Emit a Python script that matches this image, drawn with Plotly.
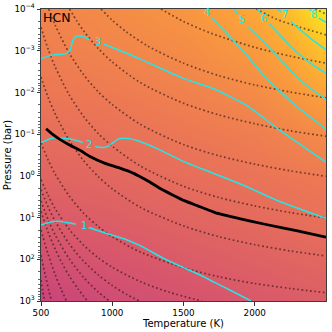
import plotly.graph_objects as go

# ---------------- data ----------------
# background colour field (fraction along the "plasma" colour map)
GRID_T = [500, 1000, 1500, 2000, 2250, 2500]
GRID_P = [1e-4, 1e-3, 1e-2, 1e-1, 1e0, 1e1, 1e2, 1e3]
GRID_Z = [
    [0.70, 0.72, 0.75, 0.80, 0.86, 0.97],
    [0.68, 0.70, 0.72, 0.76, 0.80, 0.87],
    [0.66, 0.67, 0.69, 0.72, 0.75, 0.79],
    [0.63, 0.64, 0.66, 0.68, 0.70, 0.72],
    [0.60, 0.61, 0.63, 0.65, 0.66, 0.67],
    [0.565, 0.58, 0.60, 0.62, 0.63, 0.64],
    [0.53, 0.55, 0.57, 0.59, 0.60, 0.61],
    [0.49, 0.52, 0.54, 0.56, 0.57, 0.58],
]

# cyan contour lines: (temperature K, log10 pressure bar); each list = one drawn piece
CONTOUR_LEVELS = ["1", "2", "3", "4", "5", "6", "7", "8"]
CONTOUR_PIECES_T = [
    [[500, 560, 620, 680, 745], [835, 950, 1100, 1200, 1372, 1500, 1605, 1722, 1839, 1974]],
    [[500, 583, 660, 723, 793], [880, 930, 960, 1000, 1040, 1097, 1190, 1330, 1490, 1703, 1937, 2170, 2500]],
    [[500, 583, 676, 704, 723, 746, 781, 840], [940, 1190, 1490, 1703, 1937, 2170, 2500]],
    [[1700, 1760, 1840, 1950, 2053, 2170, 2310, 2500]],
    [[1855, 1885], [1948, 2000, 2072, 2135, 2210, 2287, 2390, 2500]],
    [[2018, 2042], [2100, 2170, 2240, 2310, 2400, 2500]],
    [[2160, 2185], [2252, 2320, 2400, 2500]],
    [[2385, 2398], [2450, 2500]],
]
CONTOUR_PIECES_LOGP = [
    [[1.18, 1.11, 1.09, 1.12, 1.16], [1.24, 1.37, 1.53, 1.68, 2.0, 2.2, 2.36, 2.56, 2.76, 3.0]],
    [[-0.80, -0.91, -0.90, -0.87, -0.80], [-0.70, -0.68, -0.69, -0.78, -0.88, -0.90, -0.83, -0.63, -0.36, -0.07, 0.25, 0.61, 1.02]],
    [[-2.81, -2.90, -2.93, -3.01, -3.25, -3.34, -3.35, -3.27], [-3.16, -2.81, -2.35, -2.10, -1.70, -1.11, -0.33]],
    [[-3.80, -3.57, -3.28, -2.87, -2.45, -2.05, -1.62, -1.12]],
    [[-4.0, -3.87], [-3.58, -3.42, -3.18, -2.95, -2.68, -2.40, -2.10, -1.84]],
    [[-4.0, -3.90], [-3.65, -3.40, -3.15, -2.92, -2.68, -2.46]],
    [[-4.0, -3.93], [-3.70, -3.50, -3.27, -3.02]],
    [[-4.0, -3.95], [-3.78, -3.68]],
]
CONTOUR_LABEL_T = [800, 840, 898, 1664, 1913, 2065, 2212, 2415]
CONTOUR_LABEL_LOGP = [1.19, -0.76, -3.22, -3.92, -3.74, -3.78, -3.86, -3.86]

# dotted reference curves (temperature K, log10 pressure bar)
DOTTED_T = [
    [2425, 2500],
    [2010, 2150, 2320, 2500],
    [1342, 1500, 1700, 2000, 2250, 2500],
    [921, 1000, 1100, 1250, 1500, 1750, 2000, 2250, 2500],
    [700, 750, 800, 900, 1000, 1200, 1500, 1750, 2000, 2250, 2500],
    [554, 600, 700, 800, 900, 1000, 1200, 1500, 1750, 2000, 2250, 2500],
    [500, 550, 600, 700, 800, 900, 1000, 1200, 1500, 1750, 2000, 2250, 2500],
    [500, 550, 600, 700, 800, 900, 1000, 1200, 1500, 1750, 2000, 2250, 2500],
    [500, 550, 600, 700, 800, 900, 1000, 1200, 1500, 1750, 2000, 2250, 2500],
    [500, 550, 600, 700, 800, 900, 1000, 1200, 1400, 1630],
    [500, 550, 600, 700, 800, 900, 1000, 1100, 1190],
    [500, 550, 600, 700, 800, 900, 980],
    [500, 550, 600, 650, 700, 760, 826],
    [500, 550, 600, 640, 679],
    [500, 530, 555, 574],
    [500, 512, 525],
]
DOTTED_LOGP = [
    [-4.0, -3.88],
    [-4.0, -3.76, -3.56, -3.38],
    [-4.0, -3.70, -3.41, -3.08, -2.87, -2.70],
    [-4.0, -3.73, -3.45, -3.11, -2.70, -2.40, -2.18, -2.01, -1.87],
    [-4.0, -3.72, -3.47, -3.06, -2.73, -2.23, -1.74, -1.46, -1.25, -1.08, -0.95],
    [-4.0, -3.61, -2.93, -2.42, -2.02, -1.71, -1.23, -0.75, -0.48, -0.28, -0.12, 0.01],
    [-3.56, -3.04, -2.61, -1.93, -1.42, -1.02, -0.71, -0.23, 0.25, 0.52, 0.72, 0.88, 1.01],
    [-2.37, -1.88, -1.48, -0.84, -0.36, 0.01, 0.31, 0.76, 1.20, 1.46, 1.65, 1.80, 1.92],
    [-0.79, -0.38, -0.04, 0.49, 0.90, 1.21, 1.46, 1.83, 2.20, 2.42, 2.58, 2.70, 2.80],
    [0.09, 0.47, 0.79, 1.29, 1.665, 1.96, 2.19, 2.54, 2.79, 3.0],
    [0.33, 0.745, 1.09, 1.64, 2.05, 2.37, 2.63, 2.84, 3.0],
    [0.60, 1.05, 1.42, 2.00, 2.44, 2.78, 3.0],
    [0.85, 1.35, 1.76, 2.11, 2.41, 2.71, 3.0],
    [1.30, 1.88, 2.37, 2.71, 3.0],
    [1.90, 2.38, 2.75, 3.0],
    [2.5, 2.75, 3.0],
]

# solid black pressure-temperature profile
PROFILE_T = [536, 580, 630, 700, 780, 840, 950, 1050, 1150, 1190, 1260, 1330, 1420,
             1510, 1600, 1722, 1900, 2072, 2300, 2500]
PROFILE_LOGP = [-1.13, -1.0, -0.88, -0.74, -0.60, -0.47, -0.30, -0.19, -0.06, 0.01, 0.14,
                0.29, 0.45, 0.60, 0.72, 0.88, 1.03, 1.16, 1.32, 1.47]

X_TICKS = [500, 1000, 1500, 2000]
X_TICK_TEXT = ["500", "1000", "1500", "2000"]
Y_TICKS = [1e-4, 1e-3, 1e-2, 1e-1, 1e0, 1e1, 1e2, 1e3]
Y_TICK_TEXT = ["10<sup>−4</sup>", "10<sup>−3</sup>", "10<sup>−2</sup>", "10<sup>−1</sup>",
               "10<sup>0</sup>", "10<sup>1</sup>", "10<sup>2</sup>", "10<sup>3</sup>"]
SPECIES = "HCN"

# ---------------- figure ----------------
FONT = "DejaVu Sans"
CYAN = "#22e6ea"

fig = go.Figure()
fig.add_trace(go.Heatmap(x=GRID_T, y=GRID_P, z=GRID_Z, colorscale="Plasma",
                         zmin=0, zmax=1, zsmooth="best", showscale=False,
                         hoverinfo="skip"))

for ts, ls in zip(DOTTED_T, DOTTED_LOGP):
    fig.add_trace(go.Scatter(x=ts, y=[10 ** v for v in ls], mode="lines",
                             line=dict(color="rgba(40,20,20,0.62)", width=1.7,
                                       dash="1.7px,2.6px", shape="spline", smoothing=0.8),
                             hoverinfo="skip", showlegend=False))

for pieces_t, pieces_l in zip(CONTOUR_PIECES_T, CONTOUR_PIECES_LOGP):
    for ts, ls in zip(pieces_t, pieces_l):
        fig.add_trace(go.Scatter(x=ts, y=[10 ** v for v in ls], mode="lines",
                                 line=dict(color=CYAN, width=1.5, shape="spline", smoothing=0.6),
                                 hoverinfo="skip", showlegend=False))

fig.add_trace(go.Scatter(x=PROFILE_T, y=[10 ** v for v in PROFILE_LOGP], mode="lines",
                         line=dict(color="black", width=2.8, shape="spline", smoothing=0.5),
                         hoverinfo="skip", showlegend=False))

for lab, t, l in zip(CONTOUR_LEVELS, CONTOUR_LABEL_T, CONTOUR_LABEL_LOGP):
    fig.add_annotation(x=t, y=l, text=lab, showarrow=False,
                       font=dict(family=FONT, size=10, color=CYAN))

fig.add_annotation(xref="x domain", yref="y domain", x=0.0, y=1.0, xanchor="left",
                   yanchor="top", text=SPECIES, showarrow=False, xshift=0, yshift=1,
                   font=dict(family=FONT, size=12.5, color="black"))

fig.update_layout(
    width=332, height=332,
    margin=dict(l=41, r=6, t=9, b=31),
    paper_bgcolor="white", plot_bgcolor="white",
    font=dict(family=FONT, size=9, color="black"),
    showlegend=False,
)
fig.update_xaxes(range=[500, 2500], tickvals=X_TICKS, ticktext=X_TICK_TEXT,
                 automargin=False,
                 ticks="outside", ticklen=3.5, tickwidth=0.8, tickcolor="#333",
                 showline=True, linecolor="#3c3c3c", linewidth=1, mirror=True,
                 showgrid=False, zeroline=False,
                 title=dict(text="Temperature (K)", font=dict(size=10), standoff=0),
                 tickfont=dict(size=8.8))
fig.update_yaxes(type="log", range=[3, -4], tickvals=Y_TICKS, ticktext=Y_TICK_TEXT,
                 automargin=False,
                 ticks="outside", ticklen=3.5, tickwidth=0.8, tickcolor="#333",
                 minor=dict(ticks="outside", ticklen=2, tickcolor="#666", tickwidth=0.6,
                            dtick="D1", showgrid=False),
                 showline=True, linecolor="#3c3c3c", linewidth=1, mirror=True,
                 showgrid=False, zeroline=False,
                 title=dict(text="Pressure (bar)", font=dict(size=10), standoff=0),
                 tickfont=dict(size=8.8))

fig.write_html("out.html", config={"displayModeBar": False},
               post_script="document.body.style.margin='0';document.body.style.overflow='hidden';")
